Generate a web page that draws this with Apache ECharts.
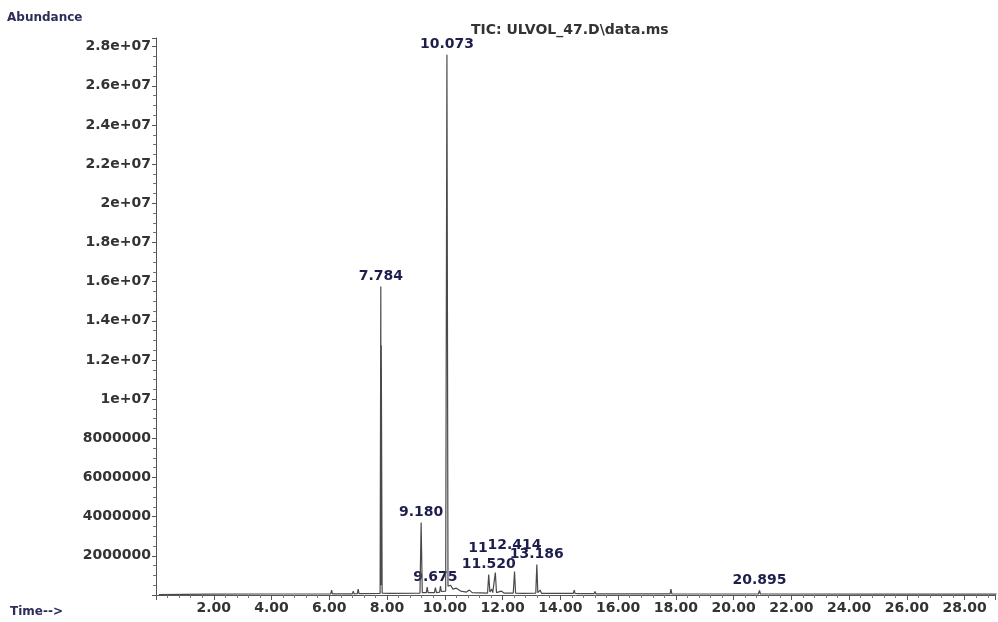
<!DOCTYPE html>
<html>
<head>
<meta charset="utf-8">
<script src="https://cdn.jsdelivr.net/npm/echarts@6/dist/echarts.min.js"></script>
<style>
html,body{margin:0;padding:0;background:#fff;}
#chart{width:998px;height:622px;}
</style>
</head>
<body>
<div id="chart"></div>
<script>
// Retention time (min)
const times = [
  0.10, 1.00, 1.86, 1.89, 1.92, 4.00,
  6.05, 6.08, 6.11, 6.80, 6.83, 6.86, 6.97, 7.00, 7.03,
  7.76, 7.784, 7.792, 7.80, 7.83, 8.10,
  9.14, 9.180, 9.22, 9.36, 9.39, 9.42, 9.64, 9.675, 9.71, 9.82, 9.85, 9.88,
  10.03, 10.073, 10.11, 10.20, 10.28, 10.40, 10.55, 10.75, 10.85, 10.95,
  11.48, 11.520, 11.56, 11.62, 11.66, 11.71, 11.749, 11.79, 11.95, 12.05,
  12.37, 12.414, 12.45, 12.70, 13.15, 13.186, 13.22, 13.30, 13.35,
  14.45, 14.48, 14.51, 14.68, 14.71, 14.74, 15.17, 15.20, 15.23,
  17.80, 17.83, 17.86, 20.86, 20.895, 20.93, 25.00, 29.10
];
// Abundance (counts)
const abundance = [
  20000, 30000, 40000, 120000, 40000, 50000,
  60000, 250000, 60000, 60000, 200000, 60000, 70000, 300000, 70000,
  80000, 15750000, 500000, 12750000, 100000, 80000,
  100000, 3700000, 120000, 120000, 400000, 120000, 120000, 380000, 120000, 150000, 450000, 180000,
  200000, 27580000, 450000, 500000, 300000, 350000, 200000, 150000, 250000, 120000,
  100000, 1050000, 150000, 300000, 120000, 120000, 1150000, 120000, 200000, 100000,
  100000, 1200000, 100000, 80000, 100000, 1560000, 120000, 250000, 80000,
  80000, 250000, 80000, 70000, 150000, 70000, 70000, 180000, 60000,
  60000, 300000, 60000, 50000, 230000, 50000, 40000, 40000
];
// Labelled peaks
const peakTimes  = [7.784, 9.180, 9.675, 10.073, 11.520, 11.749, 12.414, 13.186, 20.895];
const peakLabels = ['7.784', '9.180', '9.675', '10.073', '11.520', '11.749', '12.414', '13.186', '20.895'];

const titleText = 'TIC: ULVOL_47.D\\data.ms';
const yAxisTitle = 'Abundance';
const xAxisTitle = 'Time-->';

const lineData = times.map((t, i) => [t, abundance[i]]);
const labelOffsets = { '11.749': [0, -14], '12.414': [0, -16] };
const peakData = peakTimes.map((t, i) => {
  const idx = times.indexOf(t);
  const item = { value: [t, abundance[idx]], name: peakLabels[i] };
  if (labelOffsets[peakLabels[i]]) item.label = { offset: labelOffsets[peakLabels[i]] };
  if (peakLabels[i] === '12.414') item.label.backgroundColor = '#fff';
  return item;
});

function fmtY(v) {
  if (v === 0) return '';
  if (v >= 1e7) {
    return v.toExponential().replace(/e\+(\d)$/, 'e+0$1');
  }
  return String(v);
}

const font = 'DejaVu Sans';
const chart = echarts.init(document.getElementById('chart'), null, { renderer: 'canvas' });
chart.setOption({
  animation: false,
  backgroundColor: '#fff',
  title: [
    { text: titleText, left: 471, top: 23, padding: 0,
      textStyle: { fontFamily: font, fontSize: 14, fontWeight: 'bold', color: '#333' } },
    { text: yAxisTitle, left: 7, top: 12, padding: 0,
      textStyle: { fontFamily: font, fontSize: 12, fontWeight: 'bold', color: '#2d2d5a' } },
    { text: xAxisTitle, left: 10, top: 606, padding: 0,
      textStyle: { fontFamily: font, fontSize: 12, fontWeight: 'bold', color: '#2d2d5a' } }
  ],
  grid: { left: 156, right: 3, top: 38, bottom: 27 },
  xAxis: {
    type: 'value', min: 0, max: 29.05, interval: 2,
    axisLine: { show: true, lineStyle: { color: '#555', width: 1 } },
    axisTick: { show: true, length: 5, lineStyle: { color: '#555' } },
    minorTick: { show: true, splitNumber: 5, length: 3, lineStyle: { color: '#777' } },
    splitLine: { show: false },
    axisLabel: {
      showMinLabel: false, showMaxLabel: false, margin: 6,
      fontFamily: font, fontSize: 14, fontWeight: 'bold', color: '#333',
      formatter: v => v.toFixed(2)
    }
  },
  yAxis: {
    type: 'value', min: 0, max: 28440000, interval: 2000000,
    axisLine: { show: true, lineStyle: { color: '#555', width: 1 } },
    axisTick: { show: true, length: 4, lineStyle: { color: '#555' } },
    minorTick: { show: true, splitNumber: 4, length: 3, lineStyle: { color: '#777' } },
    splitLine: { show: false },
    axisLabel: {
      showMinLabel: false, showMaxLabel: false, margin: 5,
      fontFamily: font, fontSize: 14, fontWeight: 'bold', color: '#333',
      formatter: fmtY
    }
  },
  series: [
    {
      type: 'line', data: lineData, symbol: 'none', silent: true,
      lineStyle: { color: '#4a4a4a', width: 1.2 }
    },
    {
      type: 'scatter', data: peakData, symbolSize: 0, silent: true,
      itemStyle: { opacity: 1 },
      label: {
        show: true, position: 'top', distance: 3, opacity: 1,
        textBorderWidth: 0,
        fontFamily: font, fontSize: 14, fontWeight: 'bold', color: '#1e1e4e',
        formatter: p => p.name
      }
    }
  ]
});
</script>
</body>
</html>
